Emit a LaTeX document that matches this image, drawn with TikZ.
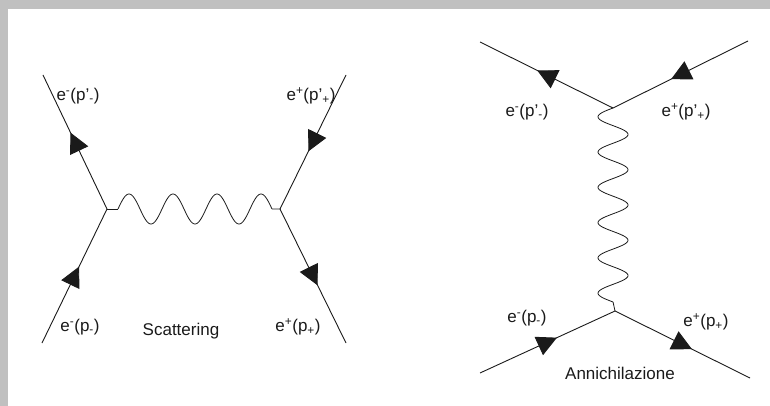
\documentclass[tikz,border=0pt]{standalone}
\usepackage{fontspec}
\setmainfont{Liberation Sans}
\usetikzlibrary{arrows.meta,decorations.markings}
\definecolor{ink}{HTML}{1A1A1A}
\definecolor{framegray}{HTML}{C0C0C0}
\newcommand{\elm}[1]{e\textsuperscript{-}(p#1\textsubscript{-})}
\newcommand{\pos}[1]{e\textsuperscript{+}(p#1\textsubscript{+})}

\begin{document}
\begin{tikzpicture}[x=1pt,y=-1pt,font=\fontsize{17}{19}\selectfont,
  fermion/.style={draw=ink,line width=0.9pt,postaction={decorate},
    decoration={markings,mark=at position 0.57 with {\arrow[ink]{Triangle[length=20pt,width=20pt]}}}},
  photon/.style={draw=ink,line width=0.8pt,line join=round},
  lbl/.style={inner sep=0pt,text=ink}]
  \useasboundingbox (0,0) rectangle (770,406);

  % frame
  \fill[framegray] (0,0) rectangle (770,9);
  \fill[framegray] (0,0) rectangle (8,406);

  % scattering
  \coordinate (L1) at (107,209);
  \coordinate (L2) at (280,209);
  \coordinate (lul) at (43,75);
  \coordinate (lll) at (42,343);
  \coordinate (lur) at (346,75);
  \coordinate (llr) at (346,343);
  \draw[fermion] (L1) -- (lul);
  \draw[fermion] (lll) -- (L1);
  \draw[fermion] (lur) -- (L2);
  \draw[fermion] (L2) -- (llr);
  \draw[photon] (L1) -- ++(11,0) coordinate (lw);
  \draw[photon,shift={(lw)}] plot[domain=0:154,samples=140,smooth]
    (\x,{-15*sin(\x/44*360)}) coordinate (lwe);
  \draw[photon] (lwe) -- (L2);
  \node[lbl] (lpme) at (78,96)  {\elm{'}};
  \node[lbl] (lppe) at (311,96) {\pos{'}};
  \node[lbl] (lme)  at (80,327) {\elm{}};
  \node[lbl] (lpe)  at (298,327) {\pos{}};
  \node[lbl] (sc)   at (181,331) {Scattering};

  % annichilazione
  \coordinate (R1) at (613,108);
  \coordinate (R2) at (615,311);
  \coordinate (rul) at (480,42);
  \coordinate (rur) at (748,41);
  \coordinate (rll) at (480,373);
  \coordinate (rlr) at (750,378);
  \draw[fermion] (R1) -- (rul);
  \draw[fermion] (rur) -- (R1);
  \draw[fermion] (rll) -- (R2);
  \draw[fermion] (R2) -- (rlr);
  \draw[photon,shift={(R1)}] plot[domain=0:194,samples=180,smooth]
    ({-15*sin(\x/35.27*360)},\x) coordinate (rwe);
  \draw[photon] (rwe) -- (R2);
  \node[lbl] (rpme) at (527,112) {\elm{'}};
  \node[lbl] (rppe) at (686,112) {\pos{'}};
  \node[lbl] (rme)  at (527,318) {\elm{}};
  \node[lbl] (rpe)  at (706,322) {\pos{}};
  \node[lbl] (an)   at (620,373) {Annichilazione};
\end{tikzpicture}
\end{document}
